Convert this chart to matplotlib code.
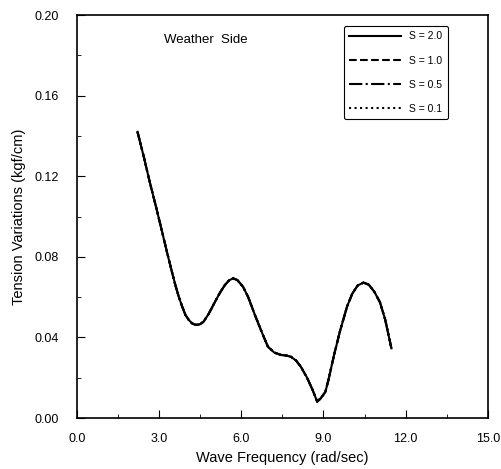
import matplotlib.pyplot as plt
from matplotlib.ticker import MultipleLocator

plt.rcParams['font.family'] = ['Liberation Sans', 'DejaVu Sans']

# wave frequency (rad/sec) and tension variations (kgf/cm); the four S curves coincide
freq = [2.21, 2.45, 2.64, 2.9, 3.12, 3.3, 3.48, 3.6, 3.72, 3.84, 3.96, 4.08, 4.2, 4.3, 4.38,
        4.5, 4.62, 4.8, 5.04, 5.22, 5.4, 5.55, 5.7, 5.85, 6.06, 6.25, 6.5, 6.75, 6.97,
        7.2, 7.45, 7.65, 7.81, 8.0, 8.17, 8.4, 8.6, 8.77, 8.9, 9.07, 9.2, 9.37, 9.6,
        9.86, 10.05, 10.25, 10.46, 10.65, 10.85, 11.06, 11.25, 11.48]
s20 = [0.142, 0.129, 0.118, 0.104, 0.0917, 0.0815, 0.0718, 0.0655, 0.060, 0.0553, 0.0511, 0.0487, 0.047, 0.0464, 0.0462,
       0.0466, 0.0478, 0.0515, 0.0577, 0.0622, 0.066, 0.0683, 0.0693, 0.0685, 0.0652, 0.060, 0.051, 0.0425, 0.0354,
       0.0325, 0.0313, 0.031, 0.0304, 0.0285, 0.0255, 0.020, 0.014, 0.0081, 0.0098, 0.013, 0.020, 0.0304, 0.043,
       0.0553, 0.0617, 0.0658, 0.0672, 0.0662, 0.0628, 0.0575, 0.049, 0.0346]
s10 = s20
s05 = s20
s01 = s20

labels = ['S = 2.0', 'S = 1.0', 'S = 0.5', 'S = 0.1']
styles = ['-', '--', '-.', ':']

fig = plt.figure(figsize=(5.01, 4.69), dpi=100)
ax = fig.add_axes([0.1537, 0.1087, 0.82, 0.8593])

for ys, lab, ls in zip([s20, s10, s05, s01], labels, styles):
    ax.plot(freq, ys, color='black', linestyle=ls, linewidth=1.5, label=lab)

ax.set_xlim(0, 15)
ax.set_ylim(0, 0.2)
ax.xaxis.set_major_locator(MultipleLocator(3))
ax.xaxis.set_minor_locator(MultipleLocator(1.5))
ax.yaxis.set_major_locator(MultipleLocator(0.04))
ax.yaxis.set_minor_locator(MultipleLocator(0.02))
ax.set_xticklabels([f'{v:.1f}' for v in ax.get_xticks()])
ax.set_yticklabels([f'{v:.2f}' for v in ax.get_yticks()])
ax.tick_params(which='both', direction='in', labelsize=9)
ax.tick_params(axis='x', which='major', length=6, pad=11)
ax.tick_params(axis='y', which='major', length=6, pad=13)
ax.tick_params(which='minor', length=3)
for sp in ax.spines.values():
    sp.set_linewidth(1.2)

ax.set_xlabel('Wave Frequency (rad/sec)', fontsize=10.5, labelpad=4)
ax.set_ylabel('Tension Variations (kgf/cm)', fontsize=10.5, labelpad=6)
ax.text(3.18, 0.1876, 'Weather  Side', fontsize=9.5, va='center')

leg = ax.legend(loc='upper right', bbox_to_anchor=(0.915, 0.985), fontsize=7.5,
                handlelength=5, labelspacing=1.35, borderpad=0.5,
                fancybox=True, edgecolor='black', framealpha=1)
leg.get_frame().set_linewidth(0.8)

fig.savefig('out.png', dpi=100)
